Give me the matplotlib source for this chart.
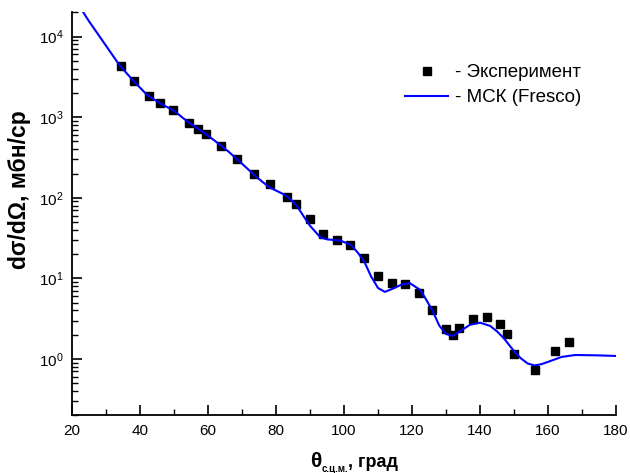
import matplotlib
matplotlib.use("Agg")
import matplotlib.pyplot as plt
from matplotlib.ticker import LogLocator, MultipleLocator, NullFormatter, LogFormatterSciNotation

plt.rcParams['font.family'] = ['Liberation Sans', 'DejaVu Sans']
plt.rcParams['mathtext.fontset'] = 'custom'
plt.rcParams['mathtext.rm'] = 'Liberation Sans'
plt.rcParams['mathtext.it'] = 'Liberation Sans:italic'
plt.rcParams['mathtext.bf'] = 'Liberation Sans:bold'

# Experimental angular distribution
exp_theta = [34.3, 38.1, 42.5, 46.0, 49.8, 54.5, 57.0, 59.3, 63.9, 68.6,
             73.4, 78.3, 83.1, 85.9, 89.9, 93.9, 97.9, 101.9, 106.0, 110.0,
             114.0, 117.9, 122.1, 126.0, 130.0, 132.0, 133.9, 138.0, 142.1,
             146.0, 148.0, 150.1, 156.1, 162.1, 166.1]
exp_xs = [4315, 2840, 1850, 1500, 1218, 848, 720, 624, 440, 300,
          199, 150, 101, 83, 54.6, 35.6, 30.2, 25.8, 17.7, 10.8,
          8.7, 8.5, 6.65, 4.06, 2.33, 1.98, 2.40, 3.13, 3.32,
          2.74, 2.02, 1.14, 0.72, 1.27, 1.61]

# Coupled-channels (Fresco) calculation
calc_theta = [23, 25, 28, 31, 34, 38, 42, 46, 50, 54, 58, 62, 66, 70, 74, 78,
              82, 84, 86, 88, 90, 93, 95, 99, 102, 104, 106, 108, 110, 112,
              114.5, 117, 119.4, 122.4, 124, 126, 128, 130, 132, 135, 137,
              140, 143, 145, 147, 150, 152, 154, 156, 158, 160, 164, 168,
              174, 180]
calc_xs = [21000, 15500, 10200, 6700, 4400, 2850, 1900, 1480, 1200, 880,
           680, 510, 375, 265, 185, 135, 112, 98, 81, 60, 45, 32.4, 30.5,
           29.4, 26, 21, 16, 10.5, 7.6, 6.8, 7.5, 8.4, 8.7, 7.2, 5.6, 4.0,
           2.6, 2.04, 1.93, 2.33, 2.65, 2.82, 2.57, 2.2, 1.81, 1.25, 1.02,
           0.88, 0.83, 0.86, 0.92, 1.06, 1.12, 1.11, 1.09]

W, H = 630, 473
fig = plt.figure(figsize=(W / 100, H / 100), dpi=100)
ax = fig.add_axes([0.1143, 0.122, 0.8635, 0.8526])

ax.plot(exp_theta, exp_xs, linestyle='none', marker='s', markersize=6,
        color='black', label='- Эксперимент')
ax.plot(calc_theta, calc_xs, color='#0000ff', linewidth=1.5,
        label='- МСК (Fresco)')

ax.set_yscale('log')
ax.set_xlim(20, 180)
ax.set_ylim(0.2, 2.02e4)

ax.spines['top'].set_visible(False)
ax.spines['right'].set_visible(False)
for s in ('left', 'bottom'):
    ax.spines[s].set_linewidth(1.3)

ax.xaxis.set_major_locator(MultipleLocator(20))
ax.xaxis.set_minor_locator(MultipleLocator(10))
ax.yaxis.set_major_locator(LogLocator(base=10, numticks=10))
ax.yaxis.set_minor_locator(LogLocator(base=10, subs=range(2, 10), numticks=20))
ax.yaxis.set_major_formatter(LogFormatterSciNotation())
ax.yaxis.set_minor_formatter(NullFormatter())

ax.tick_params(which='major', direction='in', length=7, width=1.2,
               labelsize=11, pad=6)
ax.tick_params(which='minor', direction='in', length=4, width=1.0)
ax.tick_params(axis='y', which='both', right=False)
ax.tick_params(axis='x', which='both', top=False)

ax.set_ylabel('dσ/dΩ, мбн/ср', fontsize=16.5, fontweight='bold')
ax.yaxis.set_label_coords(-0.075, 0.56)

# x-axis title assembled from pieces: θ, small lowered subscript, units
renderer = fig.canvas.get_renderer()
pieces = [('θ', 15, 6), ('с.ц.м.', 7, 1.5), (', град', 13, 6)]
texts = [fig.text(0, base / H, s, fontsize=fs, fontweight='bold',
                  va='baseline', ha='left') for s, fs, base in pieces]
widths = [t.get_window_extent(renderer).width for t in texts]
x = 354 - sum(widths) / 2
for t, w in zip(texts, widths):
    t.set_x(x / W)
    x += w

leg = ax.legend(loc='upper left', bbox_to_anchor=(405 / W, 1 - 64 / H),
                bbox_transform=fig.transFigure, frameon=False,
                fontsize=13.5, handlelength=2.3, handletextpad=0.37,
                labelspacing=0.42, borderpad=0, borderaxespad=0)

fig.savefig('out.png', dpi=100)
